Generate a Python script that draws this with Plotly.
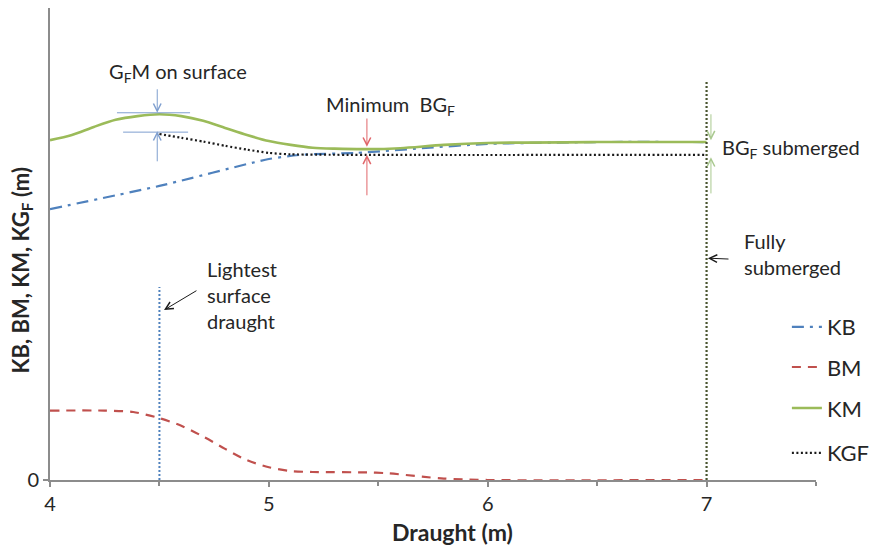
import plotly.graph_objects as go

# ---- data ----
KM_X = [4.0, 4.1, 4.2, 4.3, 4.4, 4.5, 4.6, 4.7, 4.8, 4.9, 5.0, 5.1, 5.2, 5.3, 5.45, 5.6, 5.8, 6.0, 6.5, 7.0]
KM_Y = [7.20, 7.31, 7.48, 7.63, 7.71, 7.75, 7.71, 7.61, 7.46, 7.31, 7.18, 7.10, 7.04, 7.02, 7.01, 7.03, 7.10, 7.14, 7.16, 7.16]

KB_X = [4.0, 4.5, 5.0, 5.15, 5.4, 5.7, 6.0, 6.5, 7.0]
KB_Y = [5.74, 6.23, 6.80, 6.89, 6.93, 7.03, 7.12, 7.16, 7.16]

BM_X = [4.0, 4.25, 4.38, 4.5, 4.6, 4.7, 4.8, 4.9, 5.0, 5.1, 5.2, 5.45, 5.55, 5.7, 5.8, 6.0, 7.0]
BM_Y = [1.47, 1.47, 1.44, 1.31, 1.15, 0.92, 0.66, 0.42, 0.27, 0.19, 0.17, 0.16, 0.14, 0.07, 0.03, 0.0, 0.0]

KGF_X = [4.5, 4.6, 4.7, 4.8, 4.9, 5.0, 5.1, 7.0]
KGF_Y = [7.33, 7.25, 7.17, 7.08, 7.00, 6.93, 6.90, 6.89]

LIGHT_X = [4.5, 4.5]
LIGHT_Y = [0.0, 4.09]
FULL_X = [7.0, 7.0]
FULL_Y = [0.0, 8.47]

X_TICKS = [4, 5, 6, 7]
Y_TICKS = [0]

FONT = "Lato"
TXT = "#262626"

fig = go.Figure()
fig.add_trace(go.Scatter(x=KB_X, y=KB_Y, name="KB", mode="lines", legend="legend",
                         line=dict(color="#4f81bd", width=2.2, dash="12px,6px,3px,6px",
                                   shape="spline", smoothing=0.6)))
fig.add_trace(go.Scatter(x=BM_X, y=BM_Y, name="BM", mode="lines", legend="legend2",
                         line=dict(color="#c0504d", width=2.2, dash="9px,7px",
                                   shape="spline", smoothing=0.8)))
fig.add_trace(go.Scatter(x=KM_X, y=KM_Y, name="KM", mode="lines", legend="legend3",
                         line=dict(color="#9bbb59", width=2.6, shape="spline", smoothing=0.8)))
fig.add_trace(go.Scatter(x=KGF_X, y=KGF_Y, name="KGF", mode="lines", legend="legend4",
                         line=dict(color="#1a1a1a", width=2.2, dash="2px,2.5px",
                                   shape="spline", smoothing=0.6)))
fig.add_trace(go.Scatter(x=LIGHT_X, y=LIGHT_Y, mode="lines", showlegend=False,
                         line=dict(color="#4f81bd", width=2, dash="2px,2px")))
fig.add_trace(go.Scatter(x=FULL_X, y=FULL_Y, mode="lines", showlegend=False,
                         line=dict(color="#4a5530", width=2.2, dash="2px,2px")))

annotations = []
def arrow(xh, yh, xt, yt, color):
    annotations.append(dict(x=xh, y=yh, ax=xt, ay=yt, xref="x", yref="y", axref="x", ayref="y",
                            text="", showarrow=True, arrowhead=5, arrowsize=1.5, arrowwidth=1,
                            arrowcolor=color))

def label(x, y, text, align="center", xanchor="center", size=20):
    annotations.append(dict(x=x, y=y, xref="x", yref="y", text=text, showarrow=False,
                            xanchor=xanchor, yanchor="middle", align=align,
                            font=dict(family=FONT, size=size, color=TXT)))

BLUE_A = "#7f9fcf"
RED_A = "#e0666a"
GREEN_A = "#a9c98f"
arrow(4.49, 7.78, 4.49, 8.31, BLUE_A)
arrow(4.49, 7.39, 4.49, 6.72, BLUE_A)
arrow(5.448, 7.06, 5.448, 7.69, RED_A)
arrow(5.448, 6.89, 5.448, 6.00, RED_A)
arrow(7.02, 7.20, 7.02, 7.78, GREEN_A)
arrow(7.02, 6.84, 7.02, 6.04, GREEN_A)
arrow(7.006, 4.70, 7.107, 4.68, "#1a1a1a")
arrow(4.521, 3.60, 4.676, 4.03, "#1a1a1a")

label(4.585, 8.64, "G<sub>F</sub>M on surface")
label(5.558, 7.94, "Minimum  BG<sub>F</sub>")
label(7.061, 7.03, "BG<sub>F</sub> submerged", align="left", xanchor="left")
label(7.162, 4.79, "Fully<br>submerged", align="left", xanchor="left")
label(4.708, 3.92, "Lightest<br>surface<br>draught", align="left", xanchor="left")

# axis titles
annotations.append(dict(x=0.525, y=-0.110, xref="paper", yref="paper", text="<b>Draught (m)</b>",
                        showarrow=False, xanchor="center", yanchor="middle",
                        font=dict(family=FONT, size=23, color=TXT)))
annotations.append(dict(x=-0.037, y=0.445, xref="paper", yref="paper",
                        text="<b>KB, BM, KM, KG<sub>F</sub> (m)</b>", textangle=-90,
                        showarrow=False, xanchor="center", yanchor="middle",
                        font=dict(family=FONT, size=22, color=TXT)))

shapes = [
    dict(type="line", xref="x", yref="y", x0=4.306, x1=4.640, y0=7.78, y1=7.78,
         line=dict(color=BLUE_A, width=1)),
    dict(type="line", xref="x", yref="y", x0=4.334, x1=4.631, y0=7.37, y1=7.37,
         line=dict(color=BLUE_A, width=1)),
]

leg_common = dict(x=0.962, xanchor="left", yanchor="middle", bgcolor="rgba(0,0,0,0)",
                  font=dict(family=FONT, size=22, color=TXT), itemwidth=30)

fig.update_layout(
    width=877, height=549,
    margin=dict(l=42, r=69, t=0, b=77),
    paper_bgcolor="white", plot_bgcolor="white",
    font=dict(family=FONT, color=TXT),
    annotations=annotations,
    shapes=shapes,
    legend=dict(y=0.324, **leg_common),
    legend2=dict(y=0.239, **leg_common),
    legend3=dict(y=0.152, **leg_common),
    legend4=dict(y=0.057, **leg_common),
    xaxis=dict(range=[4, 7.5], tickvals=X_TICKS, ticktext=[str(v) for v in X_TICKS],
               showgrid=False, zeroline=False, showline=True, linecolor="#8c8c8c", linewidth=2,
               ticks="outside", ticklen=5, tickcolor="#8c8c8c", tickwidth=1.5,
               minor=dict(tickvals=[4.5, 5.5, 6.5, 7.5], ticks="outside", ticklen=4,
                          tickcolor="#8c8c8c", tickwidth=1.5),
               tickfont=dict(family=FONT, size=20, color=TXT)),
    yaxis=dict(range=[0, 10], tickvals=Y_TICKS, ticktext=["0"],
               showgrid=False, zeroline=False, showline=True, linecolor="#8c8c8c", linewidth=2,
               ticks="outside", ticklen=5, tickcolor="#8c8c8c", tickwidth=1.5,
               tickfont=dict(family=FONT, size=20, color=TXT)),
)

fig.write_html("out.html")
